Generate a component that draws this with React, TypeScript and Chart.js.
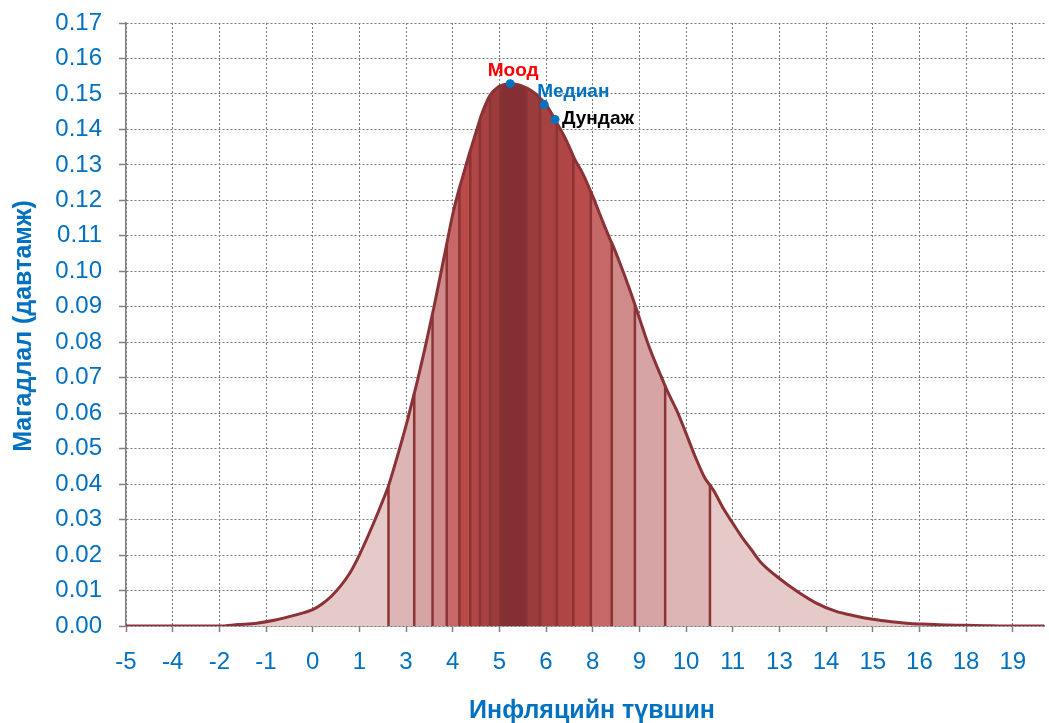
import React, { useEffect, useRef } from 'react';
import { Chart, registerables } from 'chart.js';

Chart.register(...registerables);

// ---- Data ----
const curveX = [-5, -2.5, -2, -1.5, -1, -0.5, 0, 0.25, 0.5, 0.75, 1, 1.25, 1.5, 1.75, 2, 2.25, 2.5, 2.75, 3, 3.25, 3.5, 3.75, 4, 4.25, 4.5, 4.75, 5, 5.25, 5.5, 5.75, 6, 6.25, 6.5, 6.75, 7, 7.25, 7.5, 7.75, 8, 8.25, 8.5, 8.75, 9, 9.25, 9.5, 9.75, 10, 10.25, 10.5, 10.75, 11, 11.25, 11.5, 11.75, 12, 12.5, 13, 13.5, 14, 14.5, 15, 15.5, 16, 16.5, 17, 17.5, 18, 18.5, 19.6];
const curveY = [0, 0, 0.0004, 0.0008, 0.0017, 0.003, 0.0046, 0.0062, 0.0084, 0.0113, 0.015, 0.02, 0.0258, 0.032, 0.0386, 0.0472, 0.0565, 0.0668, 0.078, 0.09, 0.103, 0.116, 0.126, 0.135, 0.1435, 0.1496, 0.1522, 0.1529, 0.1526, 0.1516, 0.1498, 0.147, 0.1426, 0.1378, 0.132, 0.1272, 0.1212, 0.1145, 0.1082, 0.1017, 0.0946, 0.0868, 0.079, 0.0724, 0.0662, 0.0608, 0.0543, 0.0476, 0.0418, 0.038, 0.0331, 0.029, 0.025, 0.0215, 0.018, 0.0134, 0.0096, 0.0064, 0.0042, 0.0029, 0.0019, 0.0012, 0.0007, 0.0005, 0.0003, 0.0002, 0.0001, 0, 0];

const bandEdges = [2.03, 2.72, 3.21, 3.59, 3.93, 4.22, 4.48, 4.75, 5.02, 5.73, 6.09, 6.54, 6.98, 7.45, 8.01, 8.63, 9.44, 10.64];
const edgeHeights = [0.0395, 0.0656, 0.0881, 0.1077, 0.1235, 0.134, 0.1428, 0.1496, 0.1523, 0.1517, 0.1488, 0.1418, 0.1325, 0.1224, 0.108, 0.0906, 0.0677, 0.0397];
const bandColors = ['#E6C9C9', '#DDB5B5', '#D6A4A4', '#CF8A8A', '#C66868', '#BA4B4B', '#B04545', '#A84242', '#9B3C3C', '#832F33', '#9B3C3C', '#A84242', '#B04545', '#BA4B4B', '#C66868', '#CF8A8A', '#D6A4A4', '#DDB5B5', '#E6C9C9'];

const xTickValues = [-5, -3.75, -2.5, -1.25, 0, 1.25, 2.5, 3.75, 5, 6.25, 7.5, 8.75, 10, 11.25, 12.5, 13.75, 15, 16.25, 17.5, 18.75];
const xTickLabels = ['-5', '-4', '-2', '-1', '0', '1', '3', '4', '5', '6', '8', '9', '10', '11', '13', '14', '15', '16', '18', '19'];
const yTickValues = [0, 0.01, 0.02, 0.03, 0.04, 0.05, 0.06, 0.07, 0.08, 0.09, 0.1, 0.11, 0.12, 0.13, 0.14, 0.15, 0.16, 0.17];
const yTickLabels = ['0.00', '0.01', '0.02', '0.03', '0.04', '0.05', '0.06', '0.07', '0.08', '0.09', '0.10', '0.11', '0.12', '0.13', '0.14', '0.15', '0.16', '0.17'];

const markerLabels = ['Моод', 'Медиан', 'Дундаж'];
const markerX = [5.29, 6.2, 6.49];
const markerY = [0.1529, 0.147, 0.1428];
const markerColors = ['#FF0000', '#0070C0', '#000000'];

const xTitle = 'Инфляцийн түвшин';
const yTitle = 'Магадлал (давтамж)';

const FONT = '"Liberation Sans", Arial, sans-serif';
const BLUE = '#0070C0';
const CURVE = '#8B3236';
const EDGE = '#8C3434';
const GRID = '#7a7a7a';

export default function App() {
  const ref = useRef<HTMLCanvasElement | null>(null);

  useEffect(() => {
    if (!ref.current) return;

    const merged: { x: number; y: number }[] = [];
    curveX.forEach((x, i) => {
      if (!bandEdges.includes(x)) merged.push({ x, y: curveY[i] });
    });
    bandEdges.forEach((x, i) => merged.push({ x, y: edgeHeights[i] }));
    merged.sort((a, b) => a.x - b.x);

    const bounds = [curveX[0], ...bandEdges, curveX[curveX.length - 1]];
    const boundH = [curveY[0], ...edgeHeights, curveY[curveY.length - 1]];

    const datasets: any[] = [];
    for (let i = 0; i < bounds.length - 1; i++) {
      const a = bounds[i];
      const b = bounds[i + 1];
      const pts = [{ x: a, y: boundH[i] }];
      curveX.forEach((x, k) => {
        if (x > a && x < b) pts.push({ x, y: curveY[k] });
      });
      pts.push({ x: b, y: boundH[i + 1] });
      datasets.push({
        data: pts,
        backgroundColor: bandColors[i],
        borderWidth: 0,
        borderColor: 'rgba(0,0,0,0)',
        fill: 'origin',
        pointRadius: 0,
        cubicInterpolationMode: 'monotone',
        order: 3,
      });
    }
    bandEdges.forEach((x, i) => {
      datasets.push({
        data: [{ x, y: 0 }, { x, y: edgeHeights[i] }],
        borderColor: EDGE,
        borderWidth: 2.5,
        fill: false,
        pointRadius: 0,
        tension: 0,
        order: 2,
      });
    });
    datasets.push({
      data: merged,
      borderColor: CURVE,
      borderWidth: 3,
      fill: false,
      pointRadius: 0,
      cubicInterpolationMode: 'monotone',
      order: 1,
    });
    const markerIndex = datasets.length;
    datasets.push({
      data: markerX.map((x, i) => ({ x, y: markerY[i] })),
      showLine: false,
      pointRadius: 4.5,
      pointBackgroundColor: BLUE,
      pointBorderWidth: 0,
      borderColor: BLUE,
      order: 0,
    });

    const textPlugin = {
      id: 'texts',
      afterDatasetsDraw(chart: any) {
        const ctx = chart.ctx;
        const meta = chart.getDatasetMeta(markerIndex);
        ctx.save();
        ctx.font = `bold 19px ${FONT}`;
        ctx.textBaseline = 'alphabetic';
        meta.data.forEach((pt: any, i: number) => {
          ctx.fillStyle = markerColors[i];
          if (i === 0) {
            ctx.textAlign = 'center';
            ctx.fillText(markerLabels[i], pt.x + 3, pt.y - 8);
          } else if (i === 1) {
            ctx.textAlign = 'left';
            ctx.fillText(markerLabels[i], pt.x - 7, pt.y - 8);
          } else {
            ctx.textAlign = 'left';
            ctx.fillText(markerLabels[i], pt.x + 7, pt.y + 5);
          }
        });
        ctx.restore();
      },
      afterDraw(chart: any) {
        const ctx = chart.ctx;
        ctx.save();
        ctx.fillStyle = BLUE;
        ctx.font = `bold 25px ${FONT}`;
        ctx.textAlign = 'center';
        ctx.textBaseline = 'alphabetic';
        ctx.fillText(xTitle, 592, 718);
        ctx.translate(31, 326);
        ctx.rotate(-Math.PI / 2);
        ctx.fillText(yTitle, 0, 0);
        ctx.restore();
      },
    };

    const chart = new Chart(ref.current, {
      type: 'line',
      data: { datasets },
      plugins: [textPlugin],
      options: {
        animation: false,
        responsive: false,
        devicePixelRatio: 1,
        layout: { padding: { top: 23, right: 0, left: 0, bottom: 0 } },
        plugins: { legend: { display: false }, tooltip: { enabled: false } },
        scales: {
          x: {
            type: 'linear',
            min: -5,
            max: 19.6,
            afterBuildTicks: (scale: any) => {
              scale.ticks = xTickValues.map((v) => ({ value: v }));
            },
            afterFit: (scale: any) => {
              scale.height = 97;
              scale.paddingLeft = 0;
              scale.paddingRight = 0;
            },
            ticks: {
              autoSkip: false,
              maxRotation: 0,
              color: BLUE,
              font: { size: 24, family: FONT },
              padding: 16,
              callback: (_v: any, i: number) => xTickLabels[i],
            },
            grid: {
              color: GRID,
              lineWidth: 1,
              tickLength: 6,
              tickColor: '#808080',
              tickWidth: 1.5,
              tickBorderDash: [],
            },
            border: { display: true, color: '#808080', width: 1.5, dash: [2, 2] },
          },
          y: {
            type: 'linear',
            min: 0,
            max: 0.17,
            afterBuildTicks: (scale: any) => {
              scale.ticks = yTickValues.map((v) => ({ value: v }));
            },
            afterFit: (scale: any) => {
              scale.width = 126;
              scale.paddingTop = 0;
              scale.paddingBottom = 0;
            },
            ticks: {
              autoSkip: false,
              color: BLUE,
              font: { size: 24, family: FONT },
              padding: 17,
              callback: (_v: any, i: number) => yTickLabels[i],
            },
            grid: {
              color: GRID,
              lineWidth: 1,
              tickLength: 7,
              tickColor: '#808080',
              tickWidth: 1.5,
              tickBorderDash: [],
            },
            border: { display: true, color: '#808080', width: 1.5, dash: [2, 2] },
          },
        },
      },
    } as any);

    return () => chart.destroy();
  }, []);

  return (
    <div style={{ position: 'absolute', left: 0, top: 0, width: 1049, height: 723, background: '#fff' }}>
      <canvas ref={ref} width={1049} height={723} style={{ width: 1049, height: 723, display: 'block' }} />
    </div>
  );
}
